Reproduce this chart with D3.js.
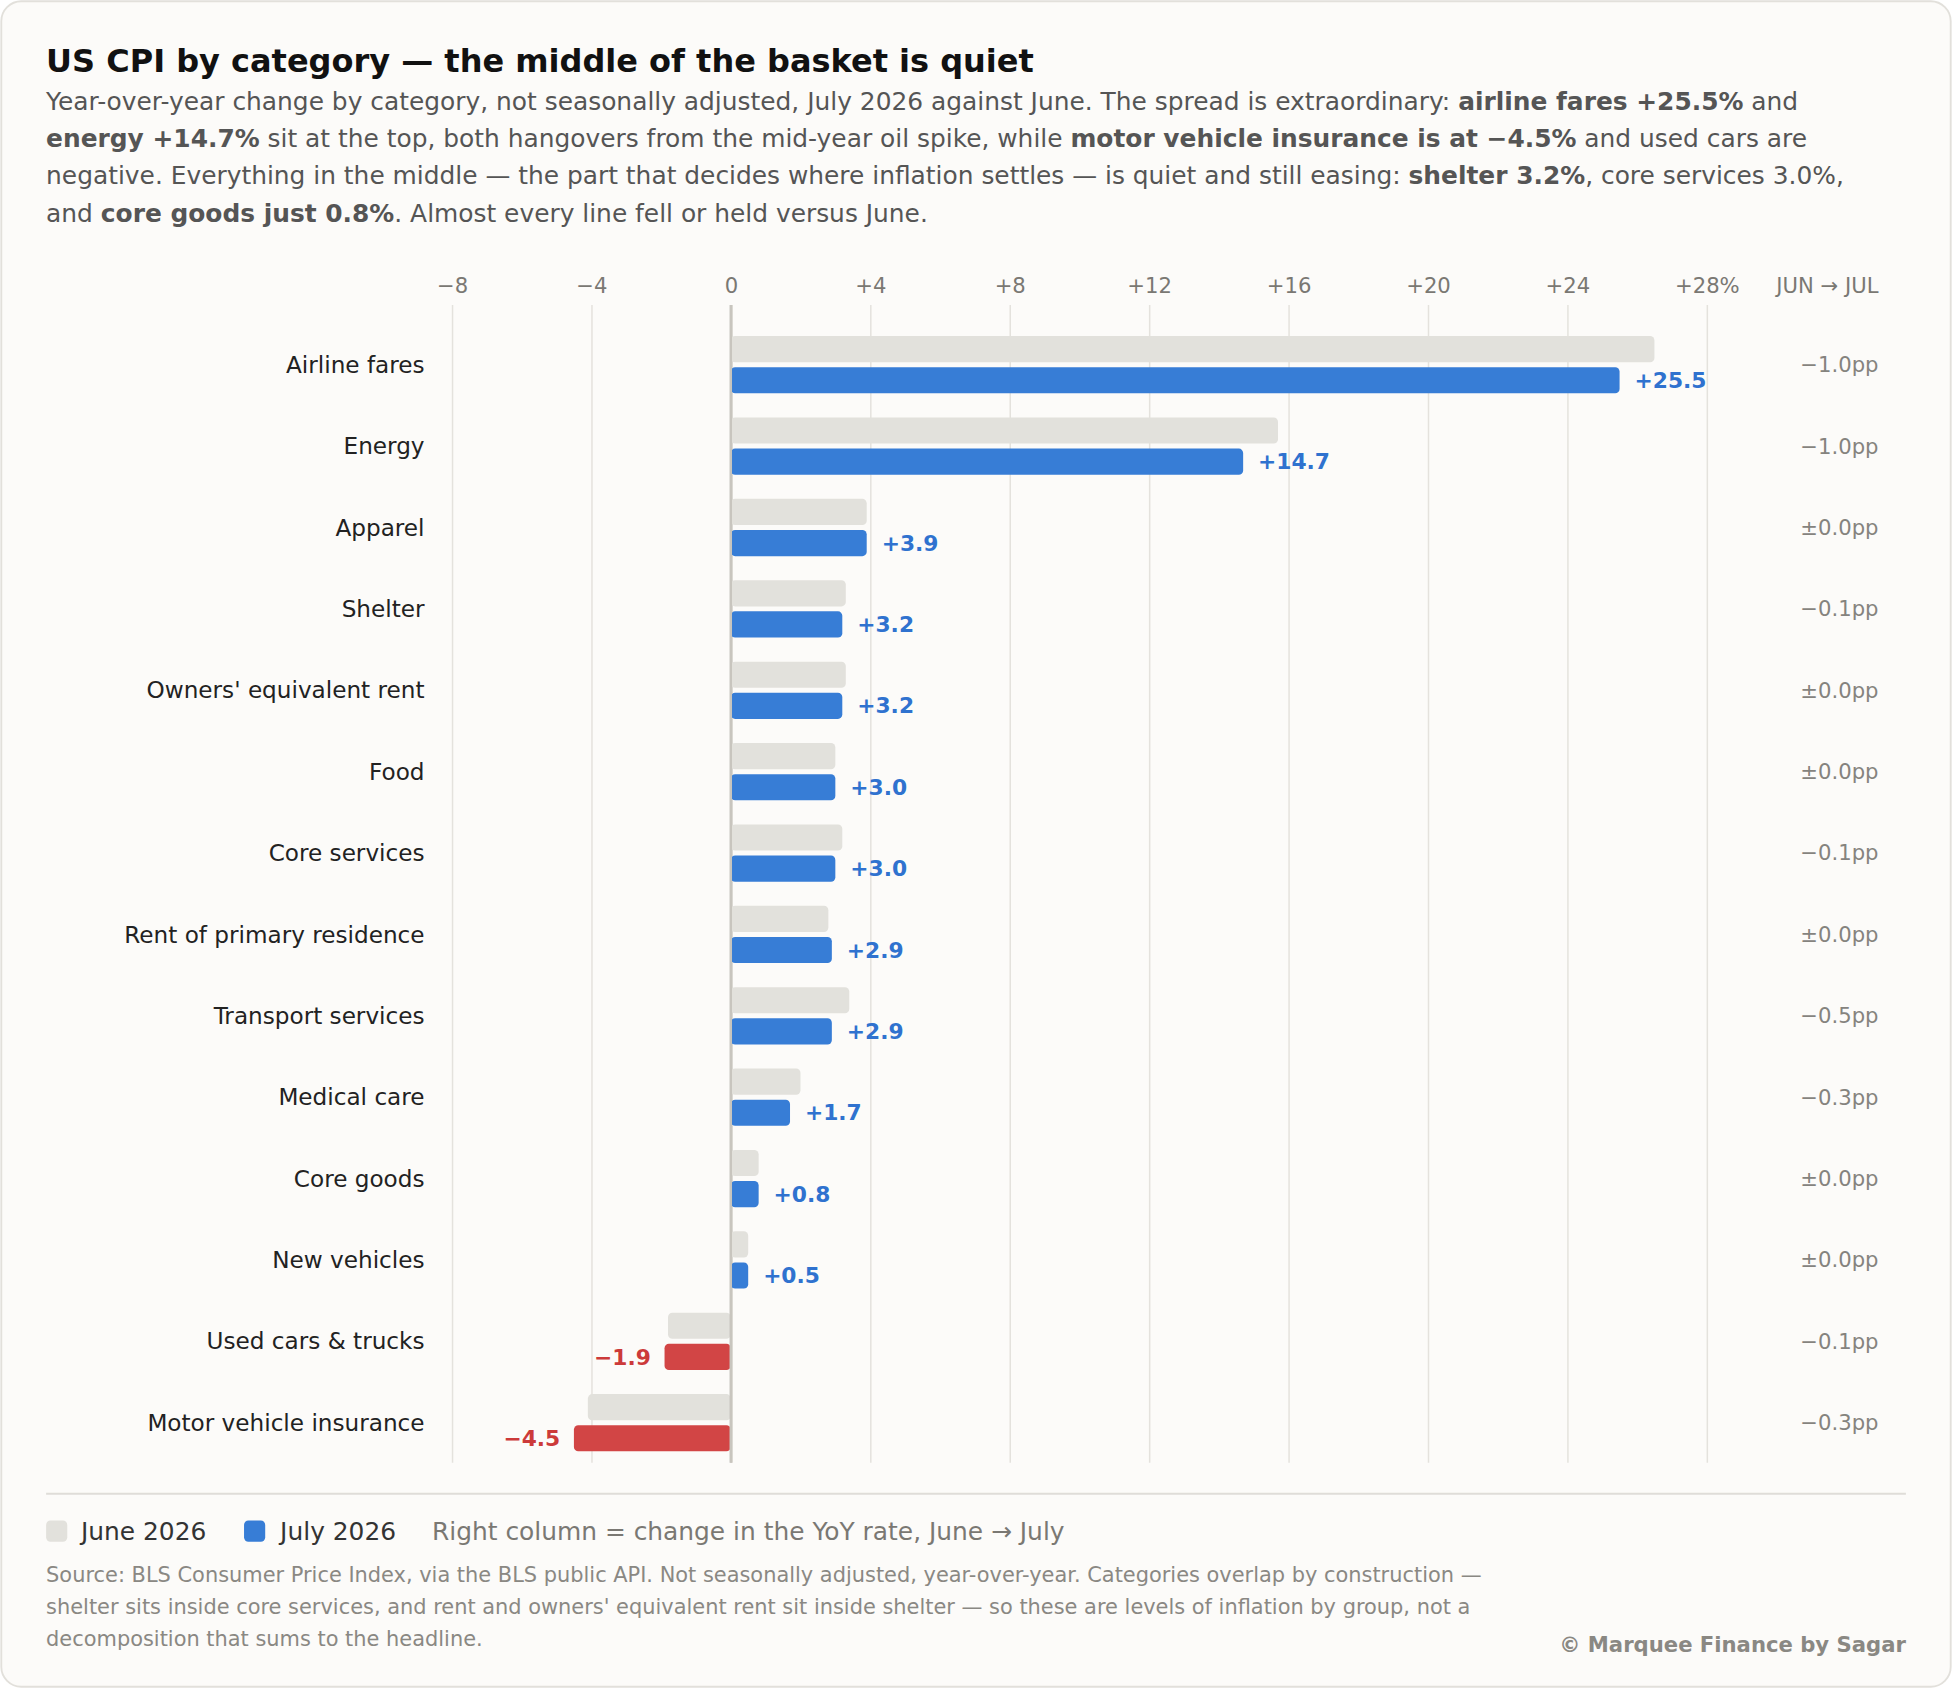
<!DOCTYPE html>
<html lang="en">
<head>
<meta charset="UTF-8">
<title>US CPI by category</title>
<style>
  body { margin: 0; background: #ffffff; }
  svg { display: block; font-family: "DejaVu Sans", Verdana, sans-serif; }
</style>
</head>
<body>
<div id="chart"></div>
<script src="https://d3js.org/d3.v7.min.js"></script>
<script>
// data (YoY %, not seasonally adjusted)
const categories = ["Airline fares", "Energy", "Apparel", "Shelter", "Owners' equivalent rent", "Food",
  "Core services", "Rent of primary residence", "Transport services", "Medical care", "Core goods",
  "New vehicles", "Used cars & trucks", "Motor vehicle insurance"];
const june2026 = [26.5, 15.7, 3.9, 3.3, 3.3, 3.0, 3.2, 2.8, 3.4, 2.0, 0.8, 0.5, -1.8, -4.1];
const july2026 = [25.5, 14.7, 3.9, 3.2, 3.2, 3.0, 3.0, 2.9, 2.9, 1.7, 0.8, 0.5, -1.9, -4.5];
const changePP = ["−1.0", "−1.0", "±0.0", "−0.1", "±0.0", "±0.0", "−0.1", "±0.0", "−0.5", "−0.3",
  "±0.0", "±0.0", "−0.1", "−0.3"];
const xTicks = [-8, -4, 0, 4, 8, 12, 16, 20, 24, 28];

const W = 1568, H = 1356;
const blue = "#377dd6", red = "#d24545", grey = "#e2e1dc";

const svg = d3.select("#chart").append("svg")
  .attr("width", 1952).attr("height", 1688)
  .attr("viewBox", `0 0 ${W} ${H}`);

// card
svg.append("rect")
  .attr("x", 1).attr("y", 1).attr("width", W - 2).attr("height", H - 2)
  .attr("rx", 16).attr("fill", "#fcfbf9").attr("stroke", "#e2e0db").attr("stroke-width", 1.5);

// title + subtitle
svg.append("text").attr("x", 37).attr("y", 58)
  .style("font-size", "25.7px").style("font-weight", "bold").attr("fill", "#111")
  .text("US CPI by category — the middle of the basket is quiet");

const subLines = [
  [["Year-over-year change by category, not seasonally adjusted, July 2026 against June. The spread is extraordinary: ", false], ["airline fares +25.5%", true], [" and", false]],
  [["energy +14.7%", true], [" sit at the top, both hangovers from the mid-year oil spike, while ", false], ["motor vehicle insurance is at −4.5%", true], [" and used cars are", false]],
  [["negative. Everything in the middle — the part that decides where inflation settles — is quiet and still easing: ", false], ["shelter 3.2%", true], [", core services 3.0%,", false]],
  [["and ", false], ["core goods just 0.8%", true], [". Almost every line fell or held versus June.", false]]
];
const sub = svg.append("text").attr("fill", "#555").style("font-size", "20px");
subLines.forEach((line, i) => {
  line.forEach(([t, b], j) => {
    const ts = sub.append("tspan").text(t).style("font-weight", b ? "bold" : "normal");
    if (j === 0) ts.attr("x", 37).attr("y", 88 + i * 30);
  });
});

// scales
const x = d3.scaleLinear().domain([-8, 28]).range([363, 1371]);
const y = d3.scaleBand().domain(categories).range([260.3, 1175.6]);
const rows = categories.map((c, i) => ({ c, jun: june2026[i], jul: july2026[i], pp: changePP[i] }));

// gridlines + tick labels
const gridTop = 245, gridBottom = 1175;
const axis = svg.append("g").attr("class", "grid")
  .attr("transform", `translate(0,${gridTop})`)
  .call(d3.axisTop(x).tickValues(xTicks)
    .tickSizeInner(-(gridBottom - gridTop)).tickSizeOuter(0).tickPadding(10)
    .tickFormat(d => d === 0 ? "0" : d < 0 ? "−" + Math.abs(d) : "+" + d + (d === 28 ? "%" : "")));
axis.select(".domain").remove();
axis.selectAll(".tick text").attr("fill", "#7a7873").style("font-size", "17px")
  .style("font-family", "'DejaVu Sans', sans-serif");
axis.selectAll(".tick line").attr("stroke", "#e4e2dd").attr("stroke-width", 1.2);
axis.selectAll(".tick").filter(d => d === 0).select("line")
  .attr("stroke", "#c8c5be").attr("stroke-width", 2);

// right column header
svg.append("text").attr("x", 1509).attr("y", gridTop - 10).attr("text-anchor", "end")
  .attr("fill", "#7a7873").style("font-size", "17px").text("JUN → JUL");

const row = svg.append("g").selectAll("g").data(rows).join("g")
  .attr("transform", d => `translate(0,${y(d.c) + y.bandwidth() / 2})`);

// category labels
row.append("text").attr("x", 341).attr("y", 0).attr("dy", "0.35em")
  .attr("text-anchor", "end").attr("fill", "#222").style("font-size", "18.6px")
  .text(d => d.c);

// June bars
row.append("rect")
  .attr("x", d => x(Math.min(0, d.jun))).attr("y", -23)
  .attr("width", d => Math.abs(x(d.jun) - x(0))).attr("height", 21)
  .attr("rx", 3.5).attr("fill", grey);

// July bars
row.append("rect")
  .attr("x", d => x(Math.min(0, d.jul))).attr("y", 2)
  .attr("width", d => Math.abs(x(d.jul) - x(0))).attr("height", 21)
  .attr("rx", 3.5).attr("fill", d => d.jul < 0 ? red : blue);

// zero line over bars
svg.append("line").attr("x1", x(0)).attr("x2", x(0)).attr("y1", gridTop).attr("y2", gridBottom)
  .attr("stroke", "#c8c5be").attr("stroke-width", 2);

// July value labels
row.append("text")
  .attr("x", d => d.jul < 0 ? x(d.jul) - 11 : x(d.jul) + 12)
  .attr("y", 12.5).attr("dy", "0.35em")
  .attr("text-anchor", d => d.jul < 0 ? "end" : "start")
  .attr("fill", d => d.jul < 0 ? "#cc3a3a" : "#2f72cf")
  .style("font-size", "17.5px").style("font-weight", "bold")
  .text(d => (d.jul < 0 ? "−" + Math.abs(d.jul).toFixed(1) : "+" + d.jul.toFixed(1)));

// change column
row.append("text").attr("x", 1509).attr("y", 0).attr("dy", "0.35em")
  .attr("text-anchor", "end").attr("fill", "#85837e").style("font-size", "17px")
  .text(d => d.pp + "pp");

// separator
svg.append("line").attr("x1", 37).attr("x2", 1531).attr("y1", 1200).attr("y2", 1200)
  .attr("stroke", "#dfddd8").attr("stroke-width", 1.5);

// legend
const legend = svg.append("g").attr("transform", "translate(37,1230)");
legend.append("rect").attr("x", 0).attr("y", -8.5).attr("width", 17).attr("height", 17)
  .attr("rx", 3.5).attr("fill", grey);
legend.append("text").attr("x", 28).attr("dy", "0.35em").attr("fill", "#333")
  .style("font-size", "20px").text("June 2026");
legend.append("rect").attr("x", 159).attr("y", -8.5).attr("width", 17).attr("height", 17)
  .attr("rx", 3.5).attr("fill", blue);
legend.append("text").attr("x", 188).attr("dy", "0.35em").attr("fill", "#333")
  .style("font-size", "20px").text("July 2026");
legend.append("text").attr("x", 310).attr("dy", "0.35em").attr("fill", "#7a7873")
  .style("font-size", "20px").text("Right column = change in the YoY rate, June → July");

// source
const sourceLines = [
  "Source: BLS Consumer Price Index, via the BLS public API. Not seasonally adjusted, year-over-year. Categories overlap by construction —",
  "shelter sits inside core services, and rent and owners' equivalent rent sit inside shelter — so these are levels of inflation by group, not a",
  "decomposition that sums to the headline."
];
svg.append("g").selectAll("text").data(sourceLines).join("text")
  .attr("x", 37).attr("y", (d, i) => 1271 + i * 25.5)
  .attr("fill", "#8a8883").style("font-size", "16.8px").text(d => d);

svg.append("text").attr("x", 1531).attr("y", 1327).attr("text-anchor", "end")
  .attr("fill", "#8a8883").style("font-size", "17px").style("font-weight", "bold")
  .text("© Marquee Finance by Sagar");
</script>
</body>
</html>
